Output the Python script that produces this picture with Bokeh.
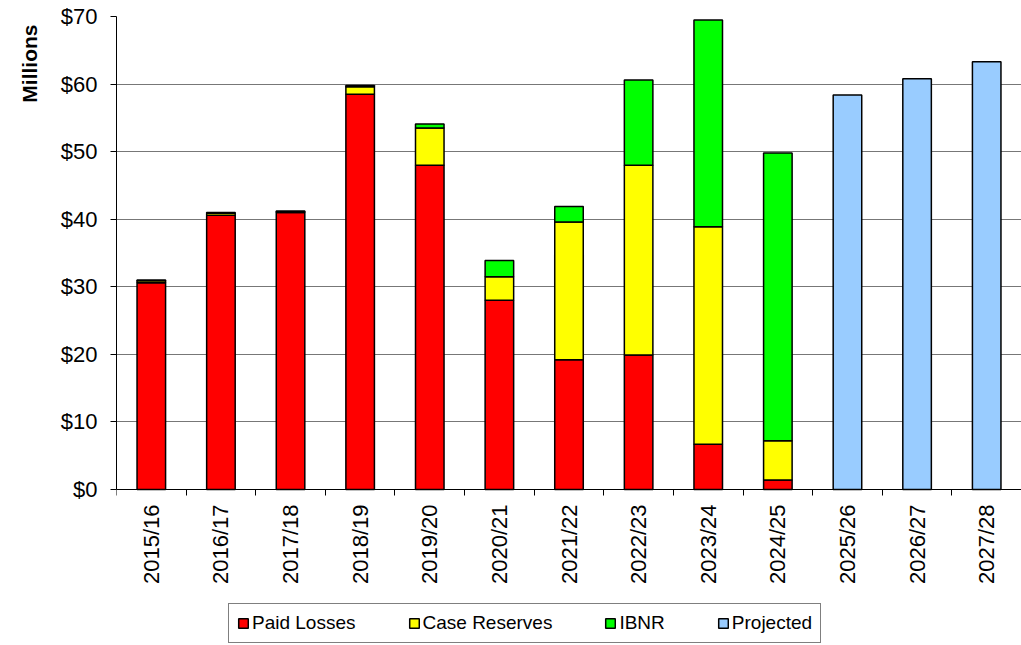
import math
from bokeh.plotting import figure
from bokeh.models import (Range1d, FixedTicker, NumeralTickFormatter, Legend, LegendItem,
                          ColumnDataSource, Title)
from bokeh.embed import file_html
from bokeh.resources import INLINE

years = ["2015/16", "2016/17", "2017/18", "2018/19", "2019/20", "2020/21", "2021/22",
         "2022/23", "2023/24", "2024/25", "2025/26", "2026/27", "2027/28"]
actual_years = years[:10]
projected_years = years[10:]
paid_losses = [30.6, 40.6, 41.0, 58.5, 48.0, 28.0, 19.2, 19.9, 6.7, 1.4]
case_reserves = [0.3, 0.3, 0.1, 1.1, 5.5, 3.5, 20.4, 28.1, 32.2, 5.8]
ibnr = [0.1, 0.1, 0.1, 0.2, 0.6, 2.4, 2.3, 12.6, 30.6, 42.6]
projected = [58.4, 60.8, 63.3]
y_ticks = [0, 10, 20, 30, 40, 50, 60, 70]

FONT = "Liberation Sans"
pos = {y: i + 0.5 for i, y in enumerate(years)}

# frame spans the full height; value 0 sits 156 px above the frame bottom,
# leaving room for the axis labels and legend inside the frame area
PX_PER_UNIT = 473 / 70.0
Y_MIN = -156 / PX_PER_UNIT

p = figure(frame_width=905, frame_height=629, x_range=Range1d(0, len(years)),
           y_range=Range1d(Y_MIN, 70),
           output_backend="svg", toolbar_location=None,
           min_border_left=116, min_border_top=16, min_border_right=0, min_border_bottom=0)
p.outline_line_color = None
p.background_fill_color = "white"

src = ColumnDataSource(dict(x=[pos[y] for y in actual_years], paid=paid_losses,
                            case=case_reserves, ibnr=ibnr))
rs = p.vbar_stack(["paid", "case", "ibnr"], x="x", width=0.41, source=src,
                  fill_color=["#FF0000", "#FFFF00", "#00FF00"], line_color="black", line_width=1.5)
src2 = ColumnDataSource(dict(x=[pos[y] for y in projected_years], top=projected))
rp = p.vbar(x="x", top="top", width=0.41, source=src2, fill_color="#99CCFF",
            line_color="black", line_width=1.5)

# x axis, drawn at value 0
xa = p.xaxis[0]
xa.fixed_location = 0
xa.ticker = FixedTicker(ticks=[pos[y] for y in years], minor_ticks=list(range(len(years) + 1)))
xa.major_label_overrides = {pos[y]: y for y in years}
xa.major_label_orientation = math.pi / 2
xa.major_tick_line_color = None
xa.minor_tick_line_color = "black"
xa.minor_tick_in = 0
xa.minor_tick_out = 6
xa.axis_line_color = "black"
xa.major_label_text_font = FONT
xa.major_label_text_font_size = "22px"
xa.major_label_text_color = "black"
xa.major_label_standoff = 9

ya = p.yaxis[0]
ya.bounds = (0, 70)
ya.ticker = FixedTicker(ticks=y_ticks)
ya.formatter = NumeralTickFormatter(format="$0")
ya.major_tick_in = 0
ya.major_tick_out = 6
ya.minor_tick_line_color = None
ya.axis_line_color = "black"
ya.major_label_text_font = FONT
ya.major_label_text_font_size = "22px"
ya.major_label_text_color = "black"
ya.major_label_standoff = 13

ytitle = Title(text="Millions", align="right", vertical_align="top", text_font=FONT,
               text_font_style="bold", text_font_size="21px", text_color="black",
               offset=8, standoff=30)
p.add_layout(ytitle, "left")

p.xgrid.grid_line_color = None
p.ygrid.ticker = FixedTicker(ticks=y_ticks)
p.ygrid.grid_line_color = "#777777"
p.ygrid.grid_line_width = 1

legend = Legend(items=[LegendItem(label="Paid Losses", renderers=[rs[0]]),
                       LegendItem(label="Case Reserves", renderers=[rs[1]]),
                       LegendItem(label="IBNR", renderers=[rs[2]]),
                       LegendItem(label="Projected", renderers=[rp])],
                orientation="horizontal", location=(112, 2),
                border_line_color="black", border_line_width=1,
                label_text_font=FONT, label_text_font_size="19px", label_text_color="black",
                glyph_width=12, glyph_height=12, label_standoff=3, spacing=52,
                padding=8, margin=0)
p.add_layout(legend, "center")

open("out.html", "w").write(file_html(p, INLINE))
